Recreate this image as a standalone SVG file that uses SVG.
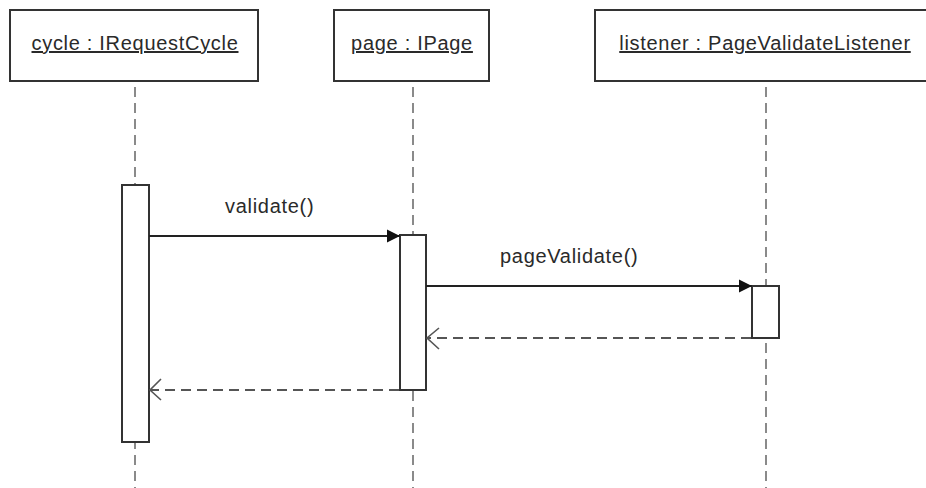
<svg xmlns="http://www.w3.org/2000/svg" width="926" height="488" viewBox="0 0 926 488">
  <defs>
    <style>
      .obj { fill: #ffffff; stroke: #333333; stroke-width: 2; }
      .act { fill: #ffffff; stroke: #333333; stroke-width: 2; }
      .life { stroke: #8a8a8a; stroke-width: 2; stroke-dasharray: 10 6; fill: none; }
      .lbl { font-family: "Liberation Sans", Arial, sans-serif; font-size: 20px; letter-spacing: 0.7px; fill: #2a2a2a; }
      .name { text-anchor: middle; text-decoration: underline; }
      .call { stroke: #222222; stroke-width: 2; fill: none; }
      .ret { stroke: #555555; stroke-width: 2; stroke-dasharray: 10 6; fill: none; }
      .open { fill: none; stroke: #555555; stroke-width: 1.6; }
    </style>
    <!-- filled head for synchronous calls -->
    <marker id="solidHead" markerWidth="14" markerHeight="14" refX="13" refY="7" orient="auto" markerUnits="userSpaceOnUse">
      <path d="M0,0.5 L13,7 L0,13.5 Z" fill="#111111"/>
    </marker>
  </defs>

  <rect width="926" height="488" fill="#ffffff"/>

  <!-- lifelines -->
  <g id="lifelines">
    <line class="life" x1="135" y1="87" x2="135" y2="488"/>
    <line class="life" x1="413" y1="87" x2="413" y2="488"/>
    <line class="life" x1="766" y1="87" x2="766" y2="488"/>
  </g>

  <!-- objects with their activation bars -->
  <g id="cycle">
    <rect class="obj" x="10" y="10" width="248" height="71"/>
    <text class="lbl name" x="135" y="50">cycle : IRequestCycle</text>
    <rect class="act" x="122" y="185" width="27" height="257"/>
  </g>
  <g id="page">
    <rect class="obj" x="334" y="10" width="155" height="71"/>
    <text class="lbl name" x="412" y="50">page : IPage</text>
    <rect class="act" x="400" y="235" width="26" height="155"/>
  </g>
  <g id="listener">
    <rect class="obj" x="595" y="10" width="342" height="71"/>
    <text class="lbl name" x="765" y="50">listener : PageValidateListener</text>
    <rect class="act" x="752" y="286" width="27" height="52"/>
  </g>

  <!-- messages -->
  <g id="connectors">
    <line class="call" x1="149" y1="236" x2="400" y2="236" marker-end="url(#solidHead)"/>
    <text class="lbl" x="225" y="213">validate()</text>

    <line class="call" x1="426" y1="286" x2="752" y2="286" marker-end="url(#solidHead)"/>
    <text class="lbl" x="500" y="263">pageValidate()</text>

    <line class="ret" x1="751" y1="338" x2="427" y2="338"/>
    <path class="open" d="M439,328 L427,338 L439,349"/>

    <line class="ret" x1="399" y1="390" x2="150" y2="390"/>
    <path class="open" d="M161,379 L150,390 L161,400"/>
  </g>
</svg>
